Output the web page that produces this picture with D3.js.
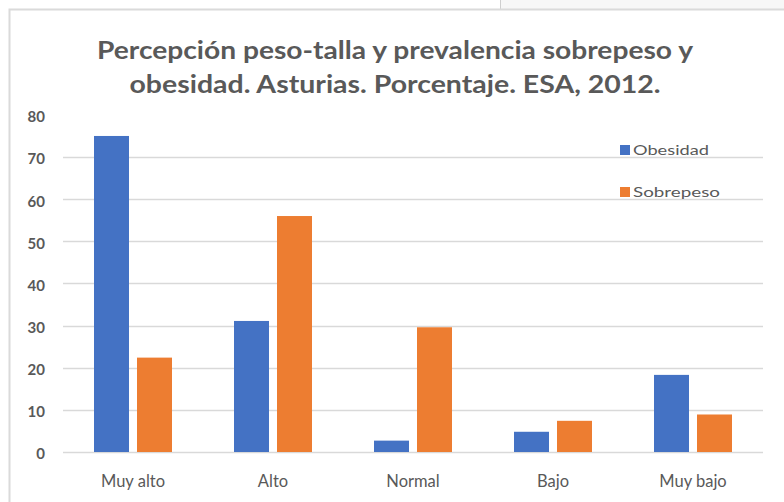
<!DOCTYPE html>
<html>
<head>
<meta charset="utf-8">
<script src="https://cdn.jsdelivr.net/npm/d3@7"></script>
<style>
  html, body { margin: 0; padding: 0; background: #fff; }
  svg { display: block; }
</style>
</head>
<body>
<script>
const categories = ["Muy alto", "Alto", "Normal", "Bajo", "Muy bajo"];
const seriesNames = ["Obesidad", "Sobrepeso"];
const obesidad = [75.0, 31.1, 2.7, 4.8, 18.3];
const sobrepeso = [22.4, 56.0, 29.6, 7.4, 8.9];
const yTicks = [0, 10, 20, 30, 40, 50, 60, 70, 80];
const gridTicks = [0, 10, 20, 30, 40, 50, 60, 70];
const titleLines = ["Percepción peso-talla y prevalencia sobrepeso y", "obesidad. Asturias. Porcentaje. ESA, 2012."];
const colors = ["#4472C4", "#ED7D31"];

const W = 784, H = 502;
const svg = d3.select("body").append("svg").attr("width", W).attr("height", H);
const font = "Lato, 'Open Sans', sans-serif";
const textColor = "#595959";

// window chrome
svg.append("rect").attr("x", 500).attr("y", 0).attr("width", 284).attr("height", 9).attr("fill", "#f7f7f7");
svg.append("line").attr("x1", 500.5).attr("x2", 500.5).attr("y1", 0).attr("y2", 9).attr("stroke", "#cfcfcf");
svg.append("path").attr("d", "M9.5,502 V9.5 H784").attr("fill", "none").attr("stroke", "#dadada").attr("stroke-width", 2);

const x0 = d3.scaleBand().domain(categories).range([63, 763]);
const x1 = d3.scaleBand().domain(seriesNames).range([-39, 39]).paddingInner(0.186);
const y = d3.scaleLinear().domain([0, 80]).range([452, 114.9]);

// gridlines
svg.append("g").selectAll("line").data(gridTicks).join("line")
  .attr("x1", 63).attr("x2", 763)
  .attr("y1", d => Math.round(y(d)) + 0.5).attr("y2", d => Math.round(y(d)) + 0.5)
  .attr("stroke", "#d9d9d9").attr("stroke-width", 1.5);

// y labels
svg.append("g").selectAll("text").data(yTicks).join("text")
  .attr("x", 45).attr("y", d => y(d) + 2).attr("dy", "0.36em")
  .attr("text-anchor", "end").attr("font-family", font).attr("font-size", 15).attr("font-weight", 700)
  .attr("fill", textColor).text(d => d);

// bars
const data = categories.map((c, i) => ({cat: c, vals: [obesidad[i], sobrepeso[i]]}));
const groups = svg.append("g").selectAll("g").data(data).join("g")
  .attr("transform", d => `translate(${x0(d.cat) + x0.bandwidth() / 2},0)`);
groups.selectAll("rect").data(d => d.vals.map((v, j) => ({s: seriesNames[j], v, j}))).join("rect")
  .attr("x", d => x1(d.s)).attr("width", x1.bandwidth())
  .attr("y", d => y(d.v)).attr("height", d => y(0) - y(d.v))
  .attr("fill", d => colors[d.j]);

// x labels
svg.append("g").selectAll("text").data(categories).join("text")
  .attr("x", d => x0(d) + x0.bandwidth() / 2).attr("y", 481).attr("dy", "0.36em")
  .attr("text-anchor", "middle").attr("font-family", font).attr("font-size", 16.5).attr("font-weight", 400)
  .attr("fill", textColor).text(d => d);

// title
const titleY = [50, 84];
const titleW = [596, 531];
svg.append("g").selectAll("text").data(titleLines).join("text")
  .attr("x", 395).attr("y", (d, i) => titleY[i]).attr("dy", "0.36em")
  .attr("text-anchor", "middle").attr("font-family", font).attr("font-size", 25).attr("font-weight", 700)
  .attr("fill", textColor)
  .attr("textLength", (d, i) => titleW[i]).attr("lengthAdjust", "spacingAndGlyphs")
  .text(d => d);

// legend
const legY = [150, 192];
const leg = svg.append("g").selectAll("g").data(seriesNames).join("g")
  .attr("transform", (d, i) => `translate(620,${legY[i]})`);
leg.append("rect").attr("x", 0).attr("y", -5).attr("width", 10).attr("height", 10).attr("fill", (d, i) => colors[i]);
leg.append("text").attr("x", 13).attr("y", 0).attr("dy", "0.36em")
  .attr("font-family", font).attr("font-size", 13.5).attr("fill", textColor)
  .attr("textLength", (d, i) => [76, 87][i]).attr("lengthAdjust", "spacingAndGlyphs")
  .text(d => d);
</script>
</body>
</html>
